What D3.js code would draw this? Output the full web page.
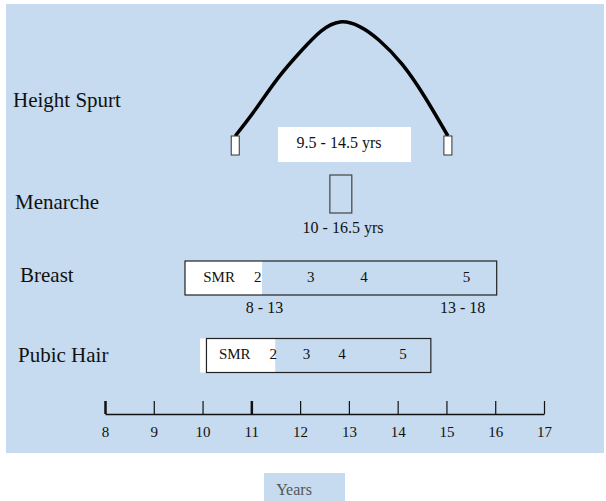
<!DOCTYPE html>
<html>
<head>
<meta charset="utf-8">
<script src="https://cdn.jsdelivr.net/npm/d3@7"></script>
<style>
  body { margin: 0; background: #fff; }
</style>
</head>
<body>
<script>
// age axis
const ageTicks = [8, 9, 10, 11, 12, 13, 14, 15, 16, 17];
const boldTicks = [8, 11];

// row labels
const rowNames = ["Height Spurt", "Menarche", "Breast", "Pubic Hair"];

// height spurt curve: age, relative growth velocity (0..1)
const spurtAges = [10.67, 11.08, 11.55, 12.03, 12.43, 12.82, 13.22, 13.62, 14.09, 14.56, 15.03];
const spurtVel  = [0, 0.23, 0.51, 0.75, 0.92, 1.0, 0.96, 0.84, 0.63, 0.34, 0];
const spurtRange = "9.5 - 14.5 yrs";

// menarche box (ages) and range
const menarche = [12.61, 13.06];
const menarcheRange = "10 - 16.5 yrs";

// breast: box span, white (pre-pubertal) span, SMR stage labels
const breastSpan = [9.64, 16.03];
const breastWhite = [9.64, 11.22];
const breastStages = ["SMR", "2", "3", "4", "5"];
const breastStageAges = [10.34, 11.13, 12.22, 13.31, 15.41];
const breastRanges = ["8 - 13", "13 - 18"];
const breastRangeAges = [11.27, 15.33];

// pubic hair
const pubicSpan = [10.08, 14.68];
const pubicWhite = [9.95, 11.49];
const pubicStages = ["SMR", "2", "3", "4", "5"];
const pubicStageAges = [10.66, 11.45, 12.13, 12.86, 14.11];

const W = 606, H = 501;
const FONT = "'Liberation Serif'";
const svg = d3.select("body").append("svg")
  .attr("width", W)
  .attr("height", H);

// panel background
svg.append("rect")
  .attr("x", 6).attr("y", 4)
  .attr("width", 598).attr("height", 449)
  .attr("fill", "#c6dbef");

const x = d3.scaleLinear().domain([8, 17]).range([105, 544]);

// row label positions (baseline)
const rowY = [107, 209, 282, 362];
const rowX = [13, 15, 20, 18];
svg.selectAll(".rowlabel")
  .data(rowNames)
  .enter().append("text")
  .attr("class", "rowlabel")
  .attr("x", (d, i) => rowX[i])
  .attr("y", (d, i) => rowY[i])
  .style("font-size", "21px")
  .text(d => d);

/**** Height spurt ****/
const yv = d3.scaleLinear().domain([0, 1]).range([136, 22]);
const spurt = spurtAges.map((a, i) => [a, spurtVel[i]]);
const line = d3.line()
  .x(d => x(d[0]))
  .y(d => yv(d[1]))
  .curve(d3.curveNatural);

svg.append("path")
  .datum(spurt)
  .attr("d", line)
  .attr("fill", "none")
  .attr("stroke", "#000")
  .attr("stroke-width", 3.5);

// little end markers
svg.selectAll(".endmark")
  .data([spurtAges[0], spurtAges[spurtAges.length - 1]])
  .enter().append("rect")
  .attr("class", "endmark")
  .attr("x", d => x(d) - 4)
  .attr("y", 136)
  .attr("width", 8)
  .attr("height", 19)
  .attr("fill", "#fff")
  .attr("stroke", "#333")
  .attr("stroke-width", 1);

svg.append("rect")
  .attr("x", 278).attr("y", 127)
  .attr("width", 133).attr("height", 35)
  .attr("fill", "#fff");
svg.append("text")
  .attr("x", 339).attr("y", 148)
  .style("font-size", "16px")
  .attr("text-anchor", "middle")
  .text(spurtRange);

/**** Menarche ****/
svg.append("rect")
  .attr("x", x(menarche[0]))
  .attr("y", 175)
  .attr("width", x(menarche[1]) - x(menarche[0]))
  .attr("height", 38)
  .attr("fill", "none")
  .attr("stroke", "#444")
  .attr("stroke-width", 1.2);
svg.append("text")
  .attr("x", 343).attr("y", 233)
  .style("font-size", "16px")
  .attr("text-anchor", "middle")
  .text(menarcheRange);

/**** Stage bars ****/
function stageBar(span, white, stages, stageAges, top, h, base) {
  svg.append("rect")
    .attr("x", x(white[0]))
    .attr("y", top)
    .attr("width", x(white[1]) - x(white[0]))
    .attr("height", h)
    .attr("fill", "#fff");
  svg.append("rect")
    .attr("x", x(span[0]))
    .attr("y", top)
    .attr("width", x(span[1]) - x(span[0]))
    .attr("height", h)
    .attr("fill", "none")
    .attr("stroke", "#222")
    .attr("stroke-width", 1.2);
  svg.append("g").selectAll("text")
    .data(stages)
    .enter().append("text")
    .attr("x", (d, i) => x(stageAges[i]))
    .attr("y", base)
    .style("font-size", "15px")
    .attr("text-anchor", "middle")
    .text(d => d);
}

stageBar(breastSpan, breastWhite, breastStages, breastStageAges, 261, 34, 282);
stageBar(pubicSpan, pubicWhite, pubicStages, pubicStageAges, 338.5, 34, 359);

svg.append("g").selectAll("text")
  .data(breastRanges)
  .enter().append("text")
  .attr("x", (d, i) => x(breastRangeAges[i]))
  .attr("y", 313)
  .style("font-size", "16px")
  .attr("text-anchor", "middle")
  .text(d => d);

/**** Age axis ****/
const axis = svg.append("g")
  .attr("transform", "translate(0,414)")
  .call(d3.axisBottom(x)
    .tickValues(ageTicks)
    .tickFormat(d3.format("d"))
    .tickSizeInner(-13)
    .tickSizeOuter(0)
    .tickPadding(12));

axis.select(".domain")
  .attr("stroke", "#111")
  .attr("stroke-width", 1.5);
axis.selectAll(".tick line")
  .attr("stroke", "#111")
  .attr("stroke-width", d => boldTicks.includes(d) ? 2.5 : 1.2);
axis.selectAll(".tick text")
  .style("font-size", "15px");

// x-axis title
svg.append("rect")
  .attr("x", 264).attr("y", 473)
  .attr("width", 81).attr("height", 28)
  .attr("fill", "#c6dbef");
svg.append("text")
  .attr("class", "xtitle")
  .attr("x", 294).attr("y", 495)
  .style("font-size", "16px")
  .attr("text-anchor", "middle")
  .text("Years");

// one font for every label
svg.selectAll("text")
  .style("font-family", FONT)
  .style("fill", "#111");
svg.select(".xtitle").style("fill", "#555");
</script>
</body>
</html>
